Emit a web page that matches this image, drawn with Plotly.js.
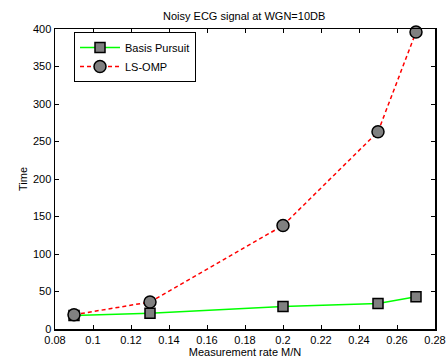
<!DOCTYPE html>
<html>
<head>
<meta charset="utf-8">
<script src="https://cdn.plot.ly/plotly-3.0.1.min.js"></script>
<style>html,body{margin:0;padding:0;background:#fff;}#chart{width:448px;height:358px;}</style>
</head>
<body>
<div id="chart"></div>
<script>
const rates = [0.09, 0.13, 0.2, 0.25, 0.27];
const basisPursuit = [18, 21, 30, 34, 43];
const lsOmp = [19, 36, 138, 263, 396];
const xTicks = [0.08, 0.1, 0.12, 0.14, 0.16, 0.18, 0.2, 0.22, 0.24, 0.26, 0.28];
const xTickText = ['0.08', '0.1', '0.12', '0.14', '0.16', '0.18', '0.2', '0.22', '0.24', '0.26', '0.28'];
const yTicks = [0, 50, 100, 150, 200, 250, 300, 350, 400];

const font = {family: 'Liberation Sans, Arial, sans-serif', size: 11, color: '#000'};

const traces = [
  {
    x: rates, y: basisPursuit, name: 'Basis Pursuit', mode: 'lines+markers',
    line: {color: '#00ff00', width: 1.5},
    marker: {symbol: 'square', size: 10, color: '#808080', line: {color: '#000', width: 1.5}},
    cliponaxis: false
  },
  {
    x: rates, y: lsOmp, name: 'LS-OMP', mode: 'lines+markers',
    line: {color: '#ff0000', width: 1.5, dash: '4px,3px'},
    marker: {symbol: 'circle', size: 12, color: '#808080', line: {color: '#000', width: 1.5}},
    cliponaxis: false
  }
];

const layout = {
  width: 448, height: 358,
  margin: {l: 55, r: 13, t: 29, b: 29},
  paper_bgcolor: '#fff', plot_bgcolor: '#fff',
  font: font,
  title: {text: 'Noisy ECG signal at WGN=10DB', font: {family: font.family, size: 11, color: '#000'}, x: 0.545, xanchor: 'center', y: 0.955, yanchor: 'middle'},
  showlegend: true,
  legend: {
    x: 0.05, y: 0.99, xanchor: 'left', yanchor: 'top',
    bgcolor: '#fff', bordercolor: '#000', borderwidth: 1,
    font: {family: font.family, size: 11, color: '#000'},
    tracegroupgap: 0, itemwidth: 40
  },
  xaxis: {
    range: [0.08, 0.28], tickvals: xTicks, ticktext: xTickText,
    ticks: 'inside', ticklen: 4, tickcolor: '#000', mirror: 'ticks',
    showline: true, linecolor: '#000', linewidth: 1.5, showgrid: false, zeroline: false,
    tickfont: font,
    title: {text: 'Measurement rate M/N', font: font, standoff: 2}
  },
  yaxis: {
    range: [0, 400], tickvals: yTicks,
    ticks: 'inside', ticklen: 4, tickcolor: '#000', mirror: 'ticks',
    showline: true, linecolor: '#000', linewidth: 1.5, showgrid: false, zeroline: false,
    tickfont: font,
    title: {text: 'Time', font: font, standoff: 3}
  }
};

Plotly.newPlot('chart', traces, layout, {staticPlot: true, displayModeBar: false});
</script>
</body>
</html>
